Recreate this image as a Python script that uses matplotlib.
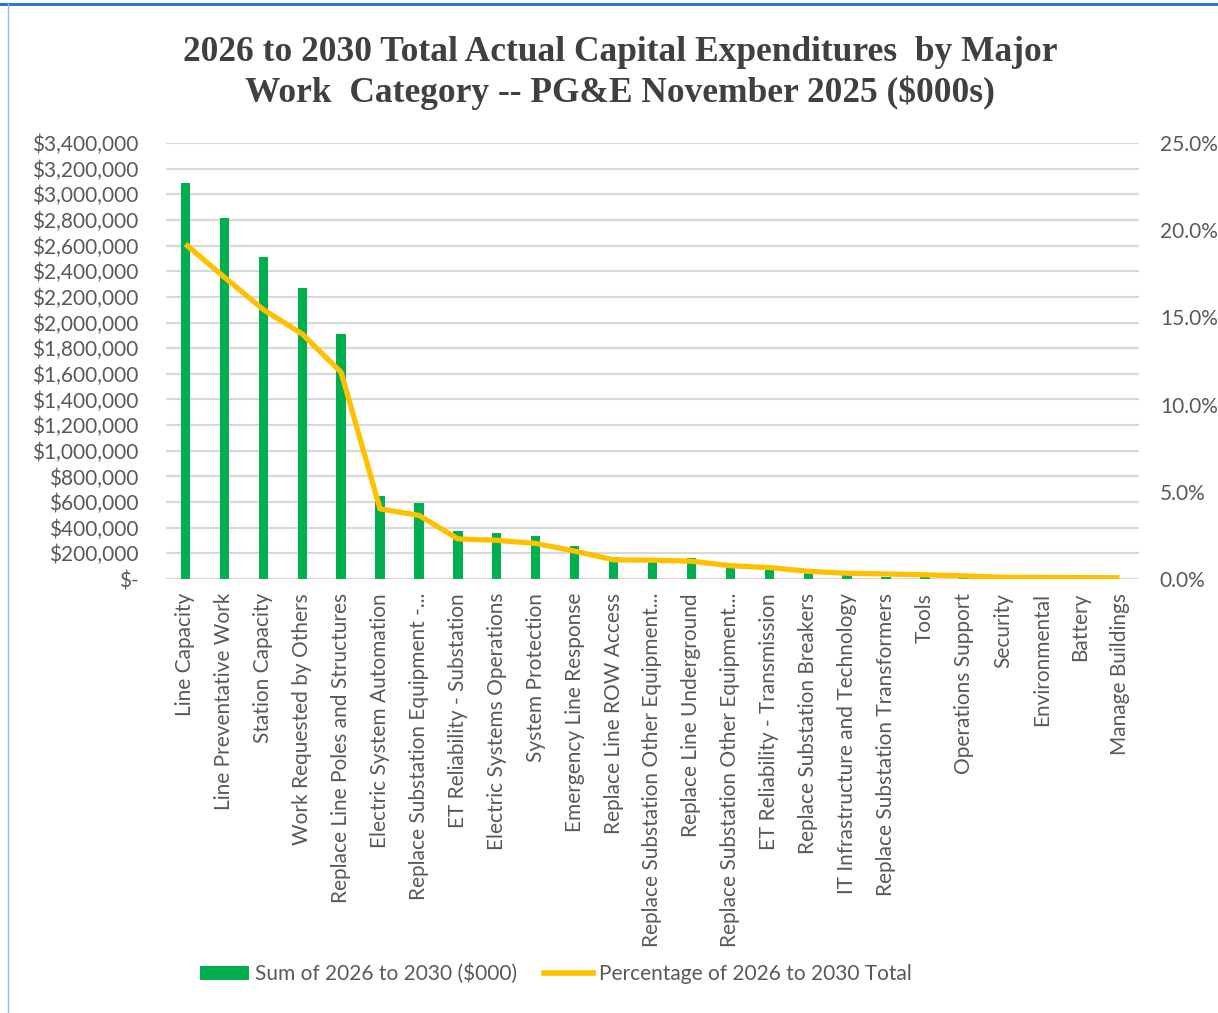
import matplotlib
matplotlib.use("Agg")
import matplotlib.pyplot as plt
import numpy as np
from matplotlib.lines import Line2D
from matplotlib.patches import Patch

categories = [
    "Line Capacity", "Line Preventative Work", "Station Capacity",
    "Work Requested by Others", "Replace Line Poles and Structures",
    "Electric System Automation", "Replace Substation Equipment -...",
    "ET Reliability - Substation", "Electric Systems Operations",
    "System Protection", "Emergency Line Response", "Replace Line ROW Access",
    "Replace Substation Other Equipment...", "Replace Line Underground",
    "Replace Substation Other Equipment...", "ET Reliability - Transmission",
    "Replace Substation Breakers", "IT Infrastructure and Technology",
    "Replace Substation Transformers", "Tools", "Operations Support",
    "Security", "Environmental", "Battery", "Manage Buildings",
]
sum_values = [3089000, 2813000, 2512000, 2270000, 1913000, 650000, 593000,
              377000, 359000, 338000, 258000, 172000, 166000, 160000,
              117000, 70000, 44000, 31000, 18000, 12000, 8000, 5000, 3000,
              2000, 1000]
pct_values = [19.2, 17.3, 15.45, 14.05, 11.85, 4.02, 3.65, 2.3, 2.22, 2.04,
              1.6, 1.1, 1.08, 1.02, 0.76, 0.66, 0.44, 0.33, 0.29, 0.24, 0.18,
              0.1, 0.09, 0.08, 0.07]
left_ticks = list(range(0, 3400001, 200000))
right_ticks = [0, 5, 10, 15, 20, 25]

title = ("2026 to 2030 Total Actual Capital Expenditures  by Major\n"
         "Work  Category -- PG&E November 2025 ($000s)")

GREEN = "#00B050"
YELLOW = "#FFC000"
GRID = "#D9D9D9"
TXT = "#595959"
FONT = "Lato"
FS = 15

W, H = 1218, 1013
fig = plt.figure(figsize=(W / 100, H / 100), dpi=100)
ax = fig.add_axes([166 / W, 1 - 579 / H, (1139 - 166) / W, (579 - 143) / H])
ax2 = ax.twinx()

x = np.arange(len(categories))
ax.bar(x, sum_values, width=0.24, color=GREEN, zorder=2)
ax.set_ylim(0, 3400000)
ax.set_xlim(-0.5, len(categories) - 0.5)
ax.set_yticks(left_ticks)
ax.set_yticklabels(["$-" if v == 0 else "${:,}".format(v) for v in left_ticks],
                   fontsize=FS, color=TXT, family=FONT)
ax.grid(axis="y", color=GRID, linewidth=1.6, zorder=0)
ax.set_axisbelow(True)
ax.set_xticks(x)
ax.set_xticklabels(categories, rotation=90, fontsize=FS, color=TXT,
                   family=FONT, va="top", ha="center")
ax.tick_params(axis="y", length=0, pad=20)
ax.tick_params(axis="x", length=0, pad=10)
for s in ax.spines.values():
    s.set_visible(False)

ax2.plot(x, pct_values, color=YELLOW, linewidth=3.8, zorder=3,
         solid_capstyle="butt", solid_joinstyle="round")
ax2.set_ylim(0, 25)
ax2.set_yticks(right_ticks)
ax2.set_yticklabels(["{:.1f}%".format(v) for v in right_ticks],
                    fontsize=FS, color=TXT, family=FONT)
ax2.tick_params(axis="y", length=0, pad=15)
for s in ax2.spines.values():
    s.set_visible(False)

fig.text(620 / W, 1 - 73 / H, title, ha="center", va="center",
         fontsize=25.5, fontweight="bold", family="Liberation Serif",
         color="#404040", linespacing=1.27)

handles = [Patch(facecolor=GREEN, edgecolor="none"),
           Line2D([0], [0], color=YELLOW, linewidth=4)]
labels = ["Sum of 2026 to 2030 ($000)", "Percentage of 2026 to 2030 Total"]
fig.legend(handles, labels, loc="center", bbox_to_anchor=(556 / W, 1 - 974 / H),
           ncol=2, frameon=False, prop={"family": FONT, "size": FS},
           labelcolor=TXT, handlelength=2.35, handleheight=0.7,
           handletextpad=0.3, columnspacing=1.3)

# screenshot frame lines
fig.add_artist(Line2D([0, 1], [1 - 4 / H, 1 - 4 / H], color="#1E6FD0",
                      linewidth=2, transform=fig.transFigure))
fig.add_artist(Line2D([8 / W, 8 / W], [0, 1 - 4 / H], color="#9DB8DA",
                      linewidth=1, transform=fig.transFigure))

fig.savefig("out.png", dpi=100, facecolor="white")
